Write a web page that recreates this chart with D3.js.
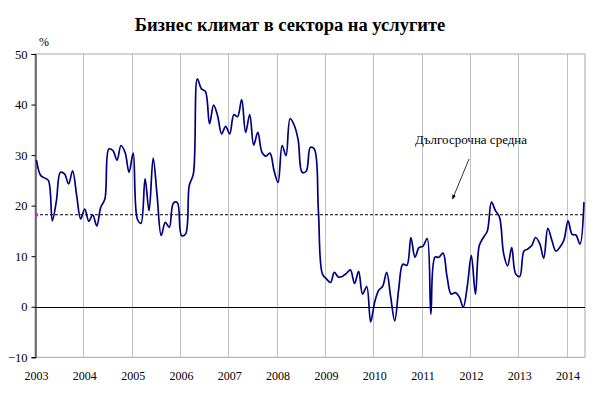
<!DOCTYPE html>
<html>
<head>
<meta charset="utf-8">
<script src="https://cdn.jsdelivr.net/npm/d3@7"></script>
<style>
  html, body { margin: 0; padding: 0; background: #fff; }
  svg text { font-family: "Liberation Serif", "Times New Roman", serif; }
</style>
</head>
<body>
<svg id="chart" width="597" height="393"></svg>
<script>
const title = "Бизнес климат в сектора на услугите";
const unitLabel = "%";
const avgLabel = "Дългосрочна средна";
const startYear = 2003;
const yearLabels = ["2003","2004","2005","2006","2007","2008","2009","2010","2011","2012","2013","2014"];
const yTicks = [-10, 0, 10, 20, 30, 40, 50];
const longTermAverage = 18.2;

// Monthly values, Jan 2003 – May 2014
const values = [
  29.0, 26.0, 25.5, 25.0, 17.0, 21.0, 26.6, 26.3, 24.3, 26.9, 22.0, 17.4,
  19.3, 16.9, 18.2, 16.0, 19.7, 21.3, 31.2, 30.9, 29.0, 31.9, 30.5, 26.6,
  30.4, 17.4, 16.5, 25.3, 19.0, 29.4, 22.0, 14.1, 16.7, 15.7, 20.5, 20.6,
  14.1, 14.4, 24.0, 26.3, 45.1, 43.1, 42.6, 36.2, 39.9, 37.8, 34.2, 35.7,
  34.2, 38.0, 37.6, 41.0, 34.5, 38.0, 32.0, 34.5, 30.6, 29.8, 30.4, 27.0,
  24.6, 31.9, 29.9, 37.2, 36.0, 33.0, 26.6, 26.8, 31.5, 31.2, 19.0, 6.5,
  5.5, 4.8, 6.8, 5.9, 6.0, 6.6, 7.3, 4.6, 7.0, 2.5, 4.0, -3.0,
  1.0, 3.3, 4.0, 6.8, 2.0, -2.8, 3.5, 8.4, 8.2, 13.7, 9.8, 11.7,
  12.0, 13.5, -1.5, 9.8, 9.8, 10.6, 6.0, 2.5, 2.8, 2.0, -0.1, 4.0,
  10.1, 2.5, 12.1, 13.7, 15.0, 20.7, 19.0, 17.7, 10.5, 8.1, 11.7, 6.5,
  6.0, 11.0, 11.4, 12.1, 13.7, 12.5, 9.6, 15.5, 13.1, 11.0, 11.8, 13.2,
  17.0, 14.3, 14.2, 12.4, 20.7
];

const svg = d3.select("#chart");
const m = { left: 35, right: 585, top: 54, bottom: 357.3 };

const data = values.map((v, i) => ({ date: new Date(startYear, i, 12), value: v }));

const x = d3.scaleTime()
  .domain([new Date(startYear, 0, 1), new Date(2014, 4, 20)])
  .range([m.left, m.right]);
const y = d3.scaleLinear().domain([-10, 50]).range([m.bottom, m.top]);

// plot border (gray)
svg.append("rect")
  .attr("x", m.left).attr("y", m.top)
  .attr("width", m.right - m.left).attr("height", m.bottom - m.top)
  .attr("fill", "none").attr("stroke", "#a6a6a6").attr("stroke-width", 1);

// vertical year gridlines
const yearDates = yearLabels.map(s => new Date(+s, 0, 1));
svg.append("g").selectAll("line").data(yearDates.slice(1)).join("line")
  .attr("x1", d => Math.round(x(d)) + 0.5).attr("x2", d => Math.round(x(d)) + 0.5)
  .attr("y1", m.top).attr("y2", m.bottom)
  .attr("stroke", "#c0c0c0").attr("stroke-width", 1);

// x tick labels
svg.append("g").selectAll("text").data(yearDates).join("text")
  .attr("x", (d, i) => x(d) + 1.5)
  .attr("y", 380)
  .attr("text-anchor", "middle")
  .attr("font-size", "12px")
  .attr("fill", "#000")
  .text((d, i) => yearLabels[i]);

// y axis
const yAxis = d3.axisLeft(y).tickValues(yTicks).tickSize(4).tickPadding(4).tickFormat(d3.format("d"));
const gy = svg.append("g").attr("transform", `translate(${m.left + 0.5},0)`).call(yAxis);
gy.select(".domain").attr("stroke", "#000");
gy.selectAll(".tick line").attr("stroke", "#000");
gy.selectAll(".tick text")
  .attr("font-family", "Liberation Serif, serif")
  .attr("font-size", "12.5px").attr("fill", "#000");

// zero line
svg.append("line")
  .attr("x1", m.left).attr("x2", m.right)
  .attr("y1", Math.round(y(0)) + 0.5).attr("y2", Math.round(y(0)) + 0.5)
  .attr("stroke", "#000").attr("stroke-width", 1);

// long-term average dashed line
svg.append("line")
  .attr("x1", m.left).attr("x2", m.right)
  .attr("y1", y(longTermAverage)).attr("y2", y(longTermAverage))
  .attr("stroke", "#000").attr("stroke-width", 1)
  .attr("stroke-dasharray", "3,2");

// magenta marker
svg.append("rect")
  .attr("x", x(data[0].date) - 1.5).attr("y", y(longTermAverage) - 1.5)
  .attr("width", 3).attr("height", 3)
  .attr("fill", "#ff00ff");

// data line
const line = d3.line()
  .x(d => x(d.date)).y(d => y(d.value))
  .curve(d3.curveCatmullRom.alpha(0.5));
svg.append("path").datum(data)
  .attr("d", line)
  .attr("fill", "none")
  .attr("stroke", "#000080")
  .attr("stroke-width", 1.7)
  .attr("stroke-linejoin", "round");

// title
svg.append("text")
  .attr("x", 290).attr("y", 31)
  .attr("text-anchor", "middle")
  .attr("font-size", "18.5px").attr("font-weight", "bold")
  .attr("fill", "#000")
  .text(title);

// unit
svg.append("text")
  .attr("x", 44).attr("y", 46)
  .attr("text-anchor", "middle")
  .attr("font-size", "12px").attr("fill", "#000")
  .text(unitLabel);

// annotation
svg.append("text")
  .attr("x", 415).attr("y", 144)
  .attr("font-size", "13px").attr("fill", "#000")
  .text(avgLabel);

svg.append("defs").append("marker")
  .attr("id", "arr").attr("viewBox", "0 0 10 10")
  .attr("refX", 9).attr("refY", 5)
  .attr("markerWidth", 6).attr("markerHeight", 6)
  .attr("orient", "auto")
  .append("path").attr("d", "M0,1 L10,5 L0,9 Z").attr("fill", "#000");

svg.append("line")
  .attr("x1", 469).attr("y1", 159)
  .attr("x2", 452.5).attr("y2", 199)
  .attr("stroke", "#000").attr("stroke-width", 0.8)
  .attr("marker-end", "url(#arr)");
</script>
</body>
</html>
